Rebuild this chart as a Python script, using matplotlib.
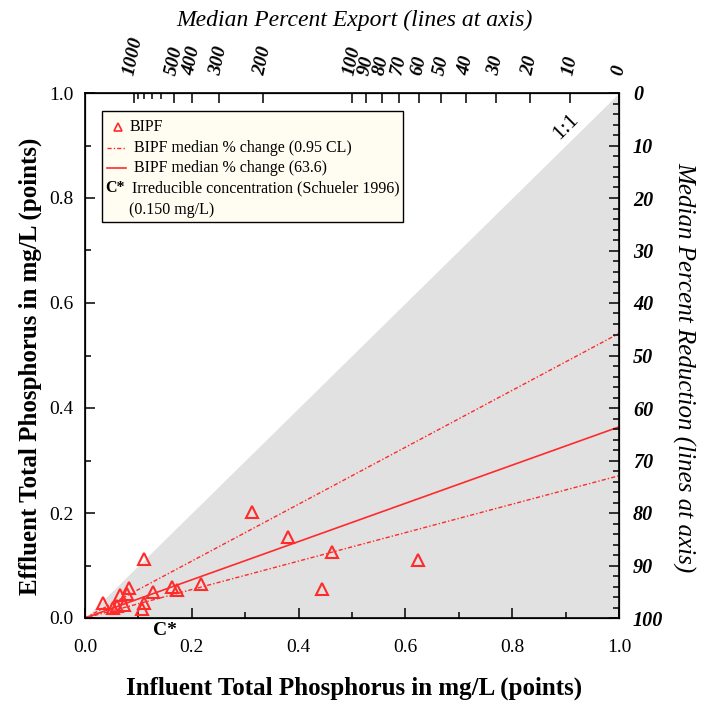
import matplotlib
matplotlib.use("Agg")
import matplotlib.pyplot as plt
import numpy as np
from matplotlib.patches import Rectangle

# Influent / effluent total phosphorus pairs (mg/L)
influent = [0.033, 0.052, 0.060, 0.066, 0.073, 0.079, 0.082, 0.107, 0.111, 0.110,
            0.127, 0.162, 0.172, 0.218, 0.312, 0.380, 0.443, 0.463, 0.624]
effluent = [0.028, 0.020, 0.022, 0.043, 0.024, 0.046, 0.057, 0.018, 0.028, 0.113,
            0.050, 0.060, 0.053, 0.064, 0.202, 0.154, 0.055, 0.126, 0.110]

# Median percent reduction and its 0.95 confidence limits
median_reduction = 63.6
cl_reduction_low = 45.8
cl_reduction_high = 72.9
c_star = 0.150

export_major = [0, 10, 20, 30, 40, 50, 60, 70, 80, 90, 100, 200, 300, 400, 500, 1000]
export_minor = [600, 700, 800, 900]
reduction_major = list(range(0, 101, 10))
reduction_minor = list(range(0, 101, 2))

RED = "#ff2a2a"
plt.rcParams["font.family"] = ["Liberation Serif", "DejaVu Serif"]

W = H = 704
fig = plt.figure(figsize=(W / 100, H / 100), dpi=100)
ax = fig.add_axes([85 / W, (H - 618) / H, 534 / W, 525 / H])
ax.set_xlim(0, 1)
ax.set_ylim(0, 1)

# region below the 1:1 line
ax.fill_between([0, 1], [0, 1], 0, color="#e1e1e1", lw=0, zorder=0)

xs = np.array([0.0, 1.0])
ax.plot(xs, xs * (1 - median_reduction / 100), color=RED, lw=1.2, zorder=2)
for r in (cl_reduction_low, cl_reduction_high):
    ax.plot(xs, xs * (1 - r / 100), color=RED, lw=1.0,
            ls=(0, (3, 1.5, 1, 1.5)), zorder=2)

ax.plot(influent, effluent, ls="none", marker="^", mfc="none", mec=RED,
        ms=8, mew=1.5, zorder=3, clip_on=False)

ax.set_xticks(np.arange(0, 1.01, 0.2))
ax.set_xticks(np.arange(0, 1.01, 0.1), minor=True)
ax.set_yticks(np.arange(0, 1.01, 0.2))
ax.set_yticks(np.arange(0, 1.01, 0.1), minor=True)
ax.set_xticklabels([f"{v:.1f}" for v in np.arange(0, 1.01, 0.2)])
ax.set_yticklabels([f"{v:.1f}" for v in np.arange(0, 1.01, 0.2)])
ax.tick_params(which="both", direction="in", labelsize=14, width=1.1)
ax.tick_params(which="major", length=7)
ax.tick_params(which="minor", length=4)
ax.tick_params(axis="x", which="major", pad=15)
ax.tick_params(axis="y", which="major", pad=8)
for s in ax.spines.values():
    s.set_linewidth(1.2)

# top axis: median percent export, where lines meet y = 1
axt = ax.twiny()
axt.set_xlim(0, 1)
axt.set_xticks([1 / (1 + e / 100) for e in export_major])
axt.set_xticks([1 / (1 + e / 100) for e in export_minor], minor=True)
axt.set_xticklabels([str(e) for e in export_major], rotation=78,
                    fontstyle="italic", fontweight="bold")
axt.tick_params(which="both", direction="in", labelsize=14, width=1.1)
axt.tick_params(which="major", length=7, pad=12)
axt.tick_params(which="minor", length=4)

# right axis: median percent reduction, where lines meet x = 1
axr = ax.twinx()
axr.set_ylim(0, 1)
axr.set_yticks([1 - r / 100 for r in reduction_major])
axr.set_yticks([1 - r / 100 for r in reduction_minor], minor=True)
axr.set_yticklabels([str(r) for r in reduction_major],
                    fontstyle="italic", fontweight="bold")
axr.tick_params(which="both", direction="in", labelsize=14.5, width=1.1)
axr.tick_params(which="major", length=7, pad=10)
axr.tick_params(which="minor", length=4)

ax.text(0.9, 0.935, "1:1", rotation=45, fontsize=16, ha="center", va="center")
ax.text(c_star, -0.024, "C*", fontsize=14, fontweight="bold", ha="center", va="center",
        clip_on=False)

# axis titles
fig.text(354 / W, 1 - 688 / H, "Influent Total Phosphorus in mg/L (points)",
         fontsize=18, fontweight="bold", ha="center", va="center")
fig.text(30 / W, 1 - 366 / H, "Effluent Total Phosphorus in mg/L (points)",
         fontsize=18, fontweight="bold", ha="center", va="center", rotation=90)
fig.text(354 / W, 1 - 20 / H, "Median Percent Export (lines at axis)",
         fontsize=17, fontstyle="italic", ha="center", va="center")
fig.text(684 / W, 1 - 367 / H, "Median Percent Reduction (lines at axis)",
         fontsize=18, fontstyle="italic", ha="center", va="center", rotation=270)

# legend box
def ax_x(px):
    return (px - 85) / 534

def ax_y(py):
    return (618 - py) / 525

ax.add_patch(Rectangle((ax_x(102), ax_y(222)), ax_x(403) - ax_x(102),
                       ax_y(111) - ax_y(222), transform=ax.transAxes,
                       facecolor="#fffdf2", edgecolor="black", lw=1.0, zorder=5))
fs = 11.5
ax.plot([ax_x(117.7)], [ax_y(127)], transform=ax.transAxes, ls="none", marker="^",
        mfc="none", mec=RED, ms=5.5, mew=1.2, zorder=6)
ax.text(ax_x(130), ax_y(127), "BIPF", transform=ax.transAxes, fontsize=fs,
        va="center", zorder=6)
ax.plot([ax_x(107), ax_x(126)], [ax_y(148)] * 2, transform=ax.transAxes, color=RED,
        lw=1.0, ls=(0, (3, 1.5, 1, 1.5)), zorder=6)
ax.text(ax_x(134), ax_y(148), "BIPF median % change (0.95 CL)", transform=ax.transAxes,
        fontsize=fs, va="center", zorder=6)
ax.plot([ax_x(107), ax_x(126)], [ax_y(168)] * 2, transform=ax.transAxes, color=RED,
        lw=1.2, zorder=6)
ax.text(ax_x(134), ax_y(168), f"BIPF median % change ({median_reduction})",
        transform=ax.transAxes, fontsize=fs, va="center", zorder=6)
ax.text(ax_x(105), ax_y(188), "C*", transform=ax.transAxes, fontsize=fs,
        fontweight="bold", va="center", zorder=6)
ax.text(ax_x(132), ax_y(188), "Irreducible concentration (Schueler 1996)",
        transform=ax.transAxes, fontsize=fs, va="center", zorder=6)
ax.text(ax_x(129), ax_y(210), f"({c_star:.3f} mg/L)", transform=ax.transAxes,
        fontsize=fs, va="center", zorder=6)

fig.savefig("out.png", dpi=100)
